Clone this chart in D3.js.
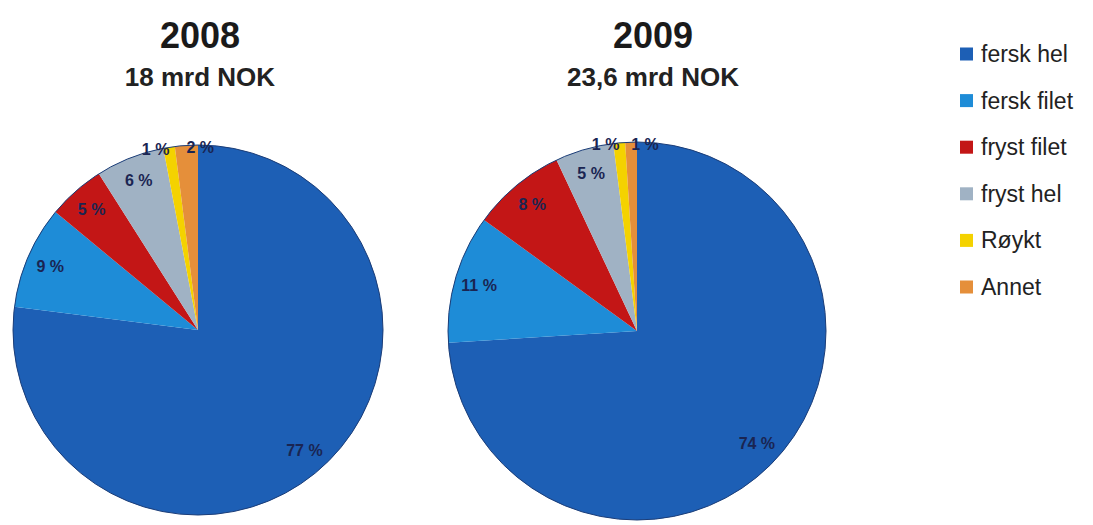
<!DOCTYPE html>
<html>
<head>
<meta charset="utf-8">
<script src="https://cdn.jsdelivr.net/npm/d3@7"></script>
<style>
  html, body { margin: 0; padding: 0; background: #ffffff; }
  svg { display: block; }
</style>
</head>
<body>
<svg id="chart" width="1093" height="525"></svg>
<script>
// Export categories and shares (%) per year
const categories = ["fersk hel", "fersk filet", "fryst filet", "fryst hel", "Røykt", "Annet"];
const colors = ["#1d5fb5", "#1e8cd7", "#c31616", "#a0b2c4", "#f4d200", "#e58f3a"];
const years = ["2008", "2009"];
const totals = ["18 mrd NOK", "23,6 mrd NOK"];
const values2008 = [77, 9, 5, 6, 1, 2];
const values2009 = [74, 11, 8, 5, 1, 1];

const svg = d3.select("#chart");
const font = "'Liberation Sans', Arial, Helvetica, sans-serif";

const color = d3.scaleOrdinal().domain(categories).range(colors);

const pies = [
  { year: years[0], total: totals[0], values: values2008, cx: 198, cy: 330, r: 185, tx: 200 },
  { year: years[1], total: totals[1], values: values2009, cx: 637, cy: 331, r: 189, tx: 653 }
];

const pie = d3.pie().sort(null).value(d => d.value);

pies.forEach(p => {
  const data = categories.map((c, i) => ({ cat: c, value: p.values[i] }));
  const arcs = pie(data);
  const arc = d3.arc().innerRadius(0).outerRadius(p.r);

  // titles
  svg.append("text")
    .attr("x", p.tx).attr("y", 48)
    .attr("text-anchor", "middle")
    .attr("font-family", font).attr("font-weight", "bold")
    .attr("font-size", 36).attr("fill", "#1a1a1a")
    .text(p.year);
  svg.append("text")
    .attr("x", p.tx).attr("y", 86)
    .attr("text-anchor", "middle")
    .attr("font-family", font).attr("font-weight", "bold")
    .attr("font-size", 26).attr("fill", "#222")
    .text(p.total);

  const g = svg.append("g").attr("transform", `translate(${p.cx},${p.cy})`);

  g.selectAll("path.slice")
    .data(arcs)
    .join("path")
    .attr("class", "slice")
    .attr("d", arc)
    .attr("fill", d => color(d.data.cat));

  // outer rim
  g.append("circle")
    .attr("r", p.r)
    .attr("fill", "none")
    .attr("stroke", "#1b3d78")
    .attr("stroke-width", 1);

  // percentage labels: large slices inside, tiny ones near the rim
  const inner = d3.arc().innerRadius(p.r * 0.87).outerRadius(p.r * 0.87);
  const rim = d3.arc().innerRadius(p.r * 0.99).outerRadius(p.r * 0.99);
  g.selectAll("text.lbl")
    .data(arcs)
    .join("text")
    .attr("class", "lbl")
    .each(function(d, i) {
      const small = d.data.value < 3;
      const [x, y] = small ? rim.centroid(d) : inner.centroid(d);
      let anchor = "middle";
      if (small) anchor = (i === arcs.length - 1) ? "start" : "end";
      d3.select(this)
        .attr("x", x).attr("y", y)
        .attr("dy", "0.35em")
        .attr("text-anchor", anchor);
    })
    .attr("font-family", font).attr("font-weight", "bold")
    .attr("font-size", 16).attr("fill", "#1a2552")
    .text(d => d.data.value + " %");
});

// legend
const legendY = d3.scalePoint().domain(categories).range([54, 287]);
const legend = svg.append("g");
const items = legend.selectAll("g")
  .data(categories)
  .join("g")
  .attr("transform", d => `translate(960,${legendY(d)})`);
items.append("rect")
  .attr("x", 0).attr("y", -6.5)
  .attr("width", 13).attr("height", 13)
  .attr("fill", d => color(d));
items.append("text")
  .attr("x", 21).attr("y", 8)
  .attr("font-family", font)
  .attr("font-size", 23).attr("fill", "#222")
  .text(d => d);
</script>
</body>
</html>
